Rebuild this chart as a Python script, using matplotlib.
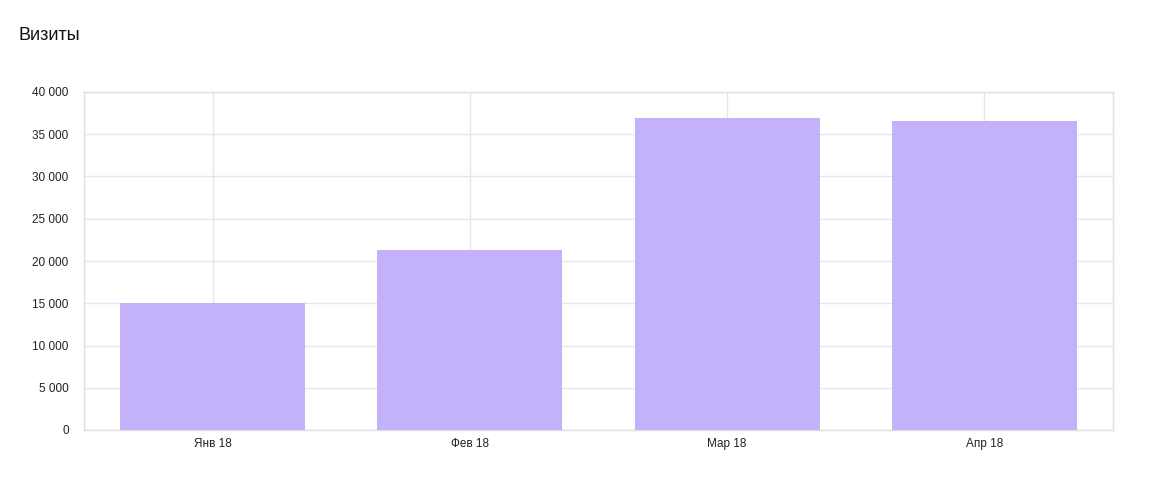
import matplotlib
matplotlib.use("Agg")
import matplotlib.pyplot as plt
from matplotlib.ticker import FuncFormatter, MultipleLocator

categories = ["Янв 18", "Фев 18", "Мар 18", "Апр 18"]
visits = [15050, 21350, 36920, 36570]
title = "Визиты"

plt.rcParams['font.family'] = ['Liberation Sans', 'DejaVu Sans']

fig = plt.figure(figsize=(11.6, 4.79), dpi=100)
ax = fig.add_axes([84/1160, 1-430/479, (1113-84)/1160, (430-92)/479])

x = list(range(len(categories)))
ax.bar(x, visits, width=0.72, color="#c3b1f9", zorder=3)
ax.set_xlim(-0.5, len(categories)-0.5)
ax.set_ylim(0, 40000)
ax.yaxis.set_major_locator(MultipleLocator(5000))
ax.yaxis.set_major_formatter(FuncFormatter(lambda v, p: f"{int(v):,}".replace(",", " ")))
ax.set_xticks(x)
ax.set_xticklabels(categories)
ax.grid(True, color="#e6e6e6", linewidth=1, zorder=0)
for s in ax.spines.values():
    s.set_color("#e0e0e0")
    s.set_linewidth(1)
ax.tick_params(length=0, labelsize=8.5, colors="#222222", pad=11)
ax.tick_params(axis='x', pad=6)

fig.text(18/1160, 1-36/479, title, fontsize=13, va="center", ha="left", color="#111111")

fig.savefig("out.png", dpi=100)
